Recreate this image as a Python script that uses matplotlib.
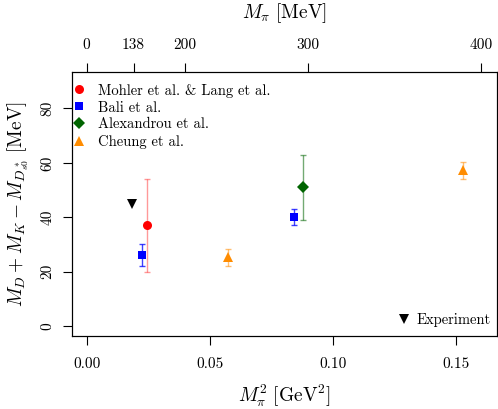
import numpy as np
import matplotlib
matplotlib.use("Agg")
import matplotlib.pyplot as plt

plt.rcParams['font.family'] = 'serif'
plt.rcParams['font.serif'] = ['cmr10']
plt.rcParams['mathtext.fontset'] = 'cm'
plt.rcParams['axes.formatter.use_mathtext'] = True

# data: M_pi^2 [GeV^2], M_D + M_K - M_Ds0* [MeV], error
mohler_x = [0.0244]
mohler_y = [37.0]
mohler_err = [17.0]

bali_x = [0.0226, 0.0842]
bali_y = [26.0, 40.0]
bali_err = [4.0, 3.0]

alex_x = [0.0877]
alex_y = [51.0]
alex_err = [12.0]

cheung_x = [0.0573, 0.153]
cheung_y = [25.2, 57.2]
cheung_err = [3.0, 3.0]

exp_x = [0.0182]
exp_y = [44.7]

xticks = [0.00, 0.05, 0.10, 0.15]
xtick_labels = ['0.00', '0.05', '0.10', '0.15']
yticks = [0, 20, 40, 60, 80]
top_ticks_mev = [0, 138, 200, 300, 400]

fig = plt.figure(figsize=(4.98, 4.09), dpi=100)
ax = fig.add_axes([71.7 / 498, 1 - 335.7 / 409, (496.7 - 71.7) / 498, (335.7 - 71.7) / 409])

series = [
    (mohler_x, mohler_y, mohler_err, 'o', 'red', 0.4, 6.5, 'Mohler et al. & Lang et al.'),
    (bali_x, bali_y, bali_err, 's', 'blue', 0.75, 6.0, 'Bali et al.'),
    (alex_x, alex_y, alex_err, 'D', '#006400', 0.55, 6.0, 'Alexandrou et al.'),
    (cheung_x, cheung_y, cheung_err, '^', '#FF8C00', 0.55, 7.5, 'Cheung et al.'),
]

handles = []
for x, y, e, m, c, a, ms, lab in series:
    ax.errorbar(x, y, yerr=e, fmt='none', ecolor=c, alpha=a, elinewidth=1.0,
                capsize=2.5, capthick=1.0, zorder=2)
    h, = ax.plot(x, y, linestyle='none', marker=m, color=c, markersize=ms,
                 markeredgewidth=0, zorder=3, label=lab)
    handles.append(h)

hexp, = ax.plot(exp_x, exp_y, linestyle='none', marker='v', color='black',
                markersize=7.5, markeredgewidth=0, zorder=3, label='Experiment')

leg1 = ax.legend(handles=handles, loc='upper left', bbox_to_anchor=(0.004, 0.955),
                 frameon=False, fontsize=10.5, handlelength=0.8, handletextpad=0.9,
                 labelspacing=0.22, borderaxespad=0, borderpad=0)
ax.add_artist(leg1)
ax.legend(handles=[hexp], loc='lower right', bbox_to_anchor=(0.986, 0.033),
          frameon=False, fontsize=10.5, handlelength=0.8, handletextpad=0.45,
          borderaxespad=0, borderpad=0)

ax.set_xlim(-0.0061, 0.1665)
ax.set_ylim(-3.56, 93.5)
ax.set_xticks(xticks)
ax.set_xticklabels(xtick_labels)
ax.set_yticks(yticks)
ax.set_yticklabels([str(v) for v in yticks], rotation=90, va='center')
ax.tick_params(direction='out', length=6.5, width=0.8, labelsize=11, pad=9)
ax.tick_params(axis='y', pad=6)

ax.set_xlabel(r'$M_\pi^2\ [\mathrm{GeV}^2]$', fontsize=14, labelpad=9)
ax.set_ylabel(r'$M_D + M_K - M_{D_{s0}^*}\ [\mathrm{MeV}]$', fontsize=14, labelpad=7)

ax2 = ax.twiny()
ax2.set_xlim(ax.get_xlim())
ax2.set_xticks([(m / 1000.0) ** 2 for m in top_ticks_mev])
ax2.set_xticklabels([str(m) for m in top_ticks_mev])
ax2.tick_params(direction='out', length=6.5, width=0.8, labelsize=11, pad=8)
ax2.set_xlabel(r'$M_\pi\ [\mathrm{MeV}]$', fontsize=14, labelpad=14)

fig.savefig('out.png', dpi=100)
